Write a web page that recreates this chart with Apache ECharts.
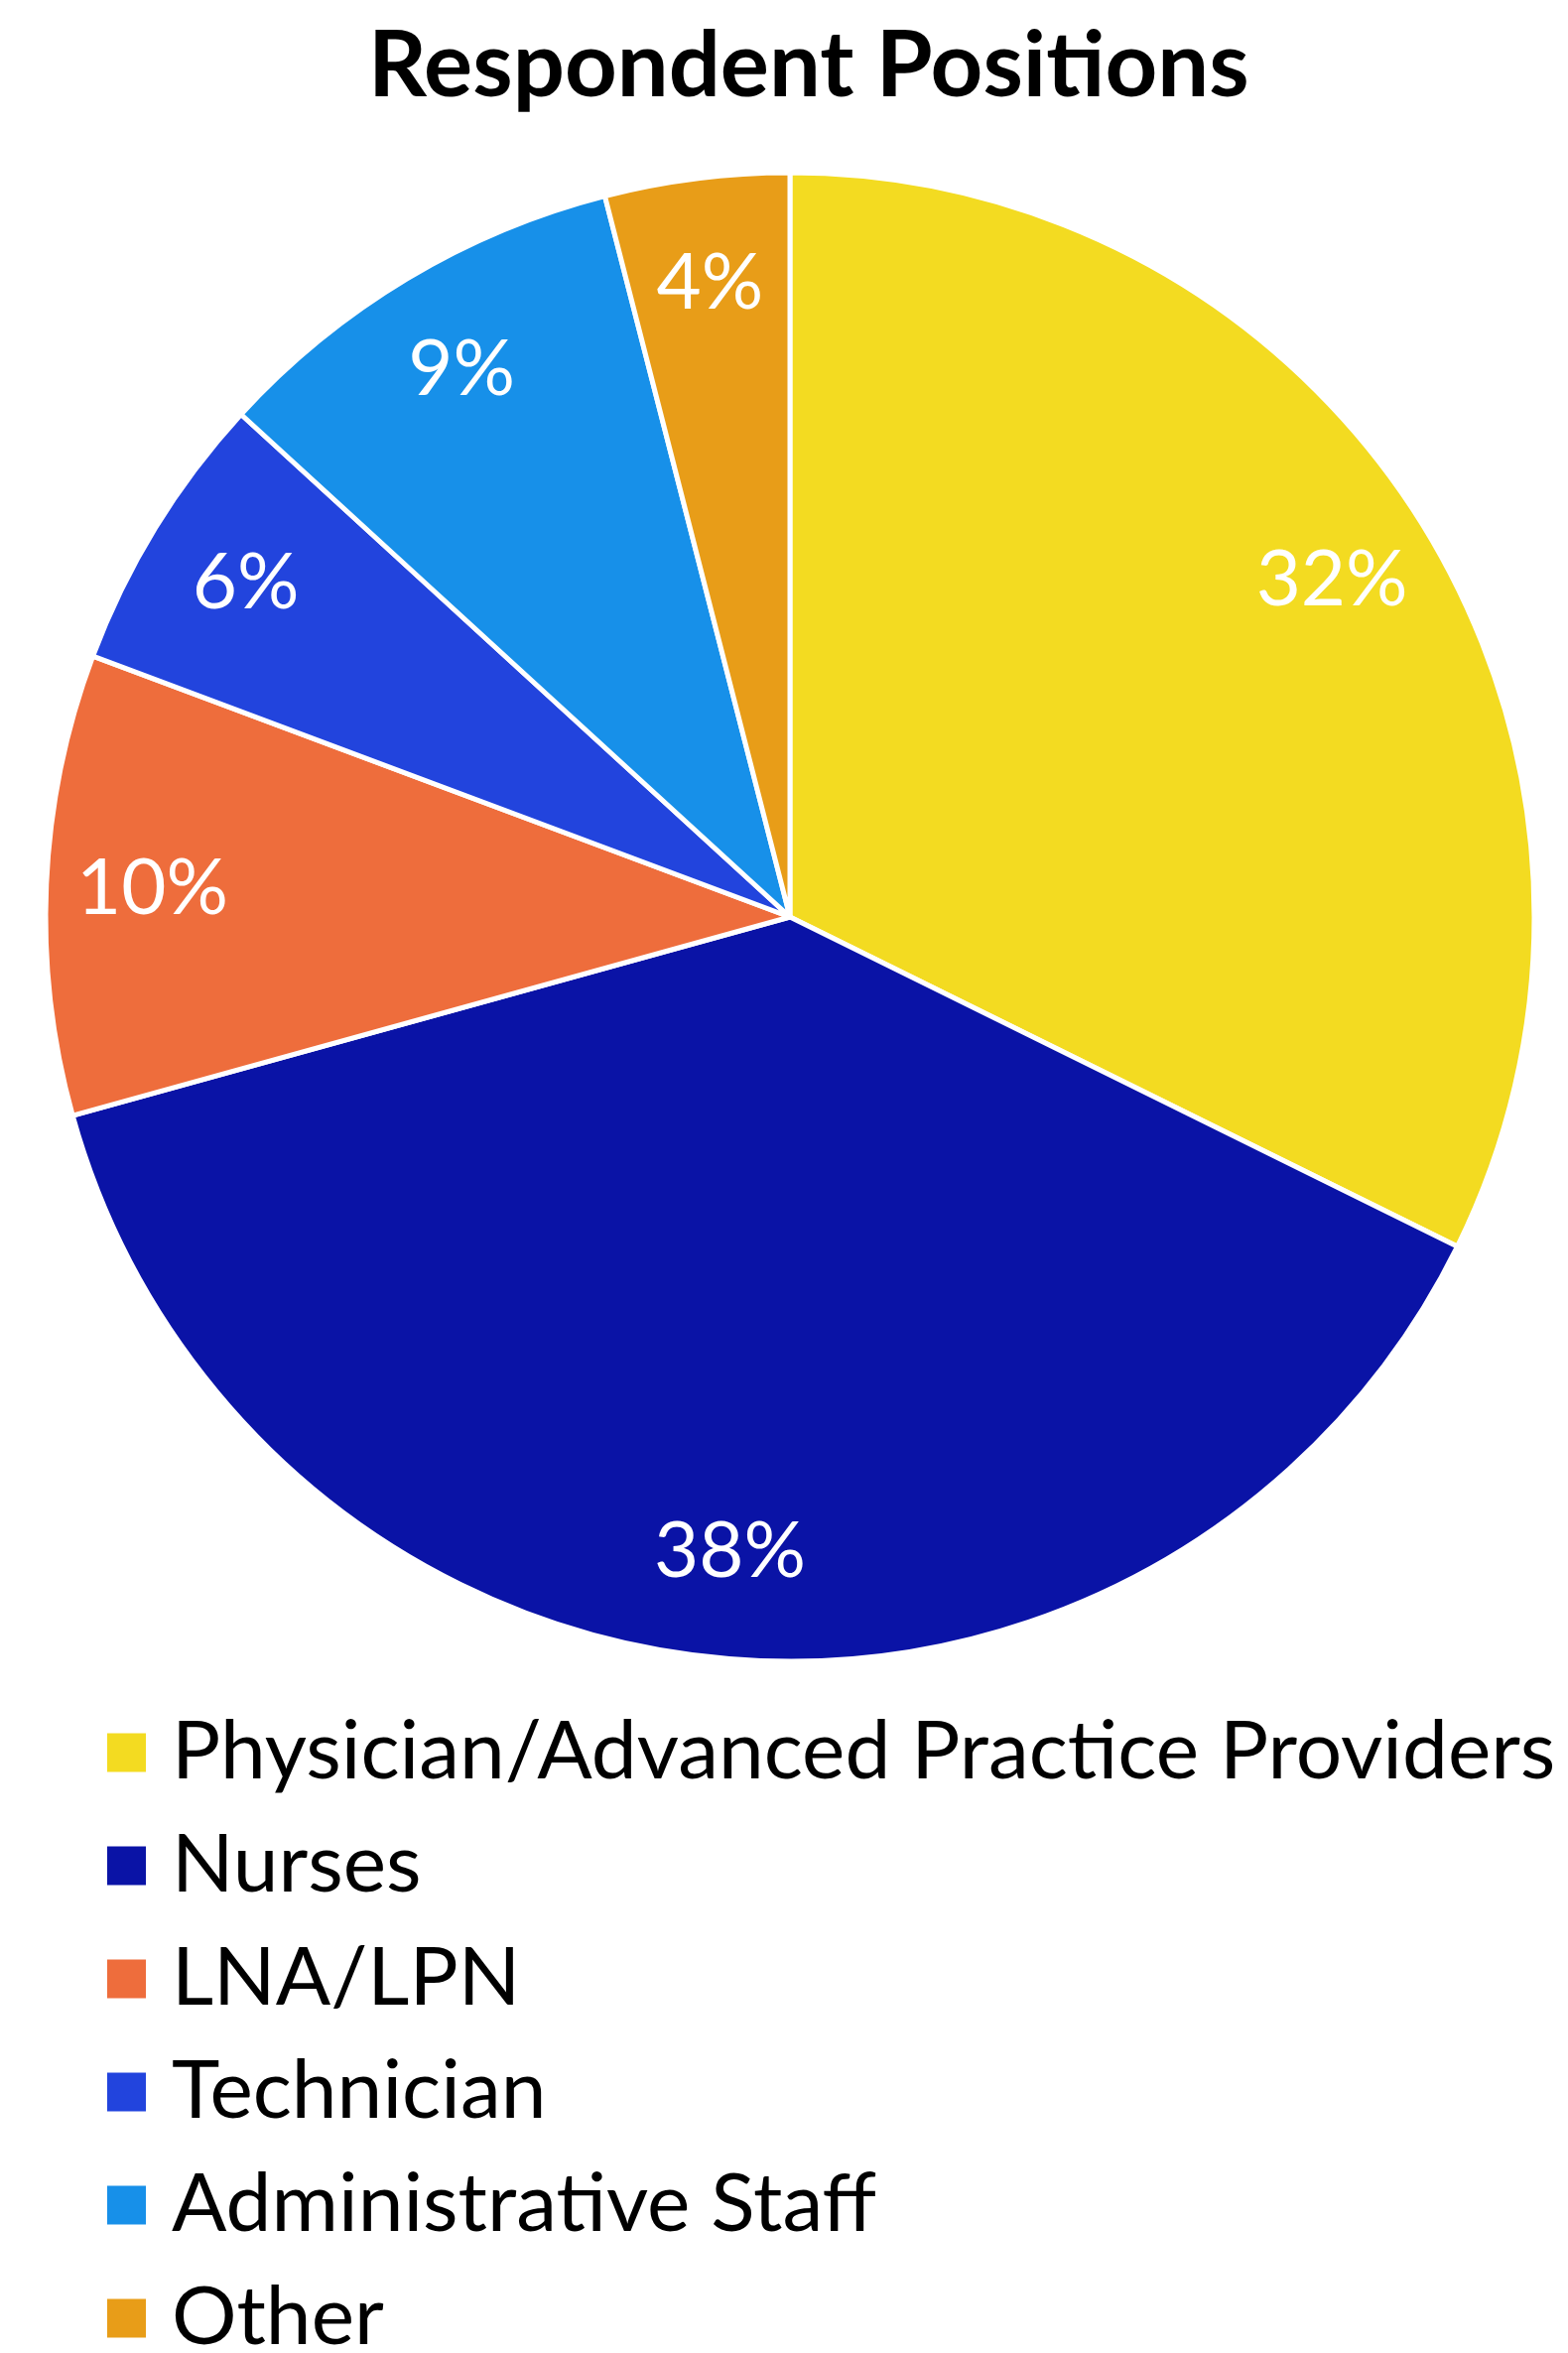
<!DOCTYPE html>
<html>
<head>
<meta charset="utf-8">
<style>
html,body{margin:0;padding:0;background:#fff;}
#chart{width:1580px;height:2371px;}
</style>
<script src="https://cdn.jsdelivr.net/npm/echarts@6/dist/echarts.min.js"></script>
</head>
<body>
<div id="chart"></div>
<script>
const titleText = 'Respondent Positions';
const categories = ['Physician/Advanced Practice Providers', 'Nurses', 'LNA/LPN', 'Technician', 'Administrative Staff', 'Other'];
const shares = [32.3, 38.4, 10.0, 6.1, 9.2, 4.0];
const colors = ['#F3DB21', '#0A13A6', '#EE6D3C', '#2244DD', '#1790E9', '#E89D18'];

const FONT = 'Lato';
const center = [796, 924];
const R = 750;

const pieData = categories.map((c, i) => ({ name: c, value: shares[i], itemStyle: { color: colors[i] } }));

const chart = echarts.init(document.getElementById('chart'), null, { renderer: 'canvas' });
chart.setOption({
  backgroundColor: '#ffffff',
  animation: false,
  title: {
    text: titleText,
    left: 366,
    top: 16,
    textStyle: { fontFamily: FONT, fontWeight: 'bold', fontSize: 92, color: '#000000' }
  },
  legend: {
    orient: 'vertical',
    left: 101,
    top: 1718,
    height: 800,
    itemWidth: 41,
    itemHeight: 41,
    itemGap: 28,
    icon: 'rect',
    data: categories,
    textStyle: { fontFamily: FONT, fontSize: 82, color: '#000000', padding: [0, 0, 0, 20], lineHeight: 86 }
  },
  series: [
    {
      type: 'pie',
      center: center,
      radius: [0, R],
      startAngle: 90,
      clockwise: true,
      avoidLabelOverlap: false,
      label: { show: false },
      labelLine: { show: false },
      itemStyle: { borderColor: '#ffffff', borderWidth: 5 },
      emphasis: { disabled: true },
      data: pieData
    },
    {
      type: 'pie',
      center: center,
      radius: [530, R],
      startAngle: 90,
      clockwise: true,
      silent: true,
      avoidLabelOverlap: false,
      legendHoverLink: false,
      itemStyle: { color: 'rgba(0,0,0,0)', borderWidth: 0 },
      label: {
        show: true,
        position: 'inside',
        formatter: p => Math.round(p.value) + '%',
        fontFamily: FONT,
        fontSize: 78,
        color: '#ffffff'
      },
      labelLine: { show: false },
      emphasis: { disabled: true },
      data: categories.map((c, i) => ({ name: c, value: shares[i] }))
    }
  ]
});
</script>
</body>
</html>
